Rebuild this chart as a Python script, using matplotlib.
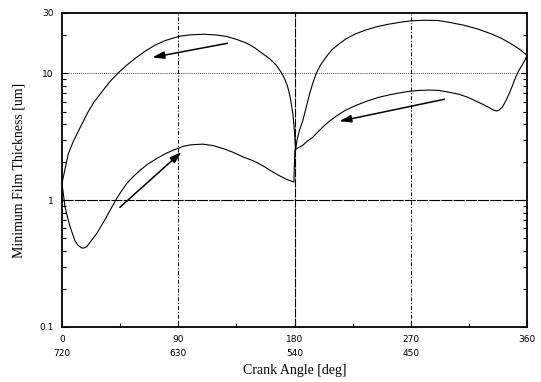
import matplotlib
matplotlib.use("Agg")
import matplotlib.pyplot as plt
from matplotlib.ticker import FixedLocator, NullFormatter

# Upper curve (crank angle deg, film thickness um)
upper_angle = [0, 4.9, 8.7, 12.6, 16, 20.3, 25, 30.6, 37, 43.5, 50, 56.4, 64, 71.8, 80, 91.2,
               100, 110, 120, 127.2, 135, 142.7, 149, 155.5, 161, 165.9, 169.5, 172.3, 174.5,
               176.1, 177.5, 178.7, 179.6, 180.3, 180.8, 182, 184, 186.5, 189, 191.7, 194,
               196.8, 200, 204.5, 209, 214.8, 220, 227.6, 235, 243, 253, 263.4, 270, 280,
               290.6, 300, 311.3, 322, 332, 340, 347.5, 354, 360]
upper_h = [1.36, 2.33, 2.9, 3.5, 4.1, 5.0, 6.0, 7.1, 8.6, 10.1, 11.6, 13.1, 14.9, 16.7, 18.2, 19.7,
           20.2, 20.4, 20.1, 19.6, 18.6, 17.4, 16.0, 14.3, 13.0, 11.6, 10.3, 9.1, 8.0,
           6.9, 5.8, 4.8, 3.9, 3.1, 2.48, 3.0, 3.6, 4.27, 5.4, 6.9, 8.3,
           10.0, 11.6, 13.5, 15.4, 17.2, 18.8, 20.6, 22.0, 23.3, 24.5, 25.5, 26.0, 26.3,
           26.2, 25.3, 24.0, 22.4, 20.6, 19.0, 17.2, 15.6, 13.9]

# Lower curve
lower_angle = [0, 2.3, 4.5, 6.2, 8.5, 10, 12.5, 15.2, 17, 19.1, 22, 26.8, 30.5, 34.5, 38.5, 42.3,
               46, 50, 55, 60.3, 66.5, 73.2, 80, 86, 93.7, 100, 109, 117, 124.6, 132, 140,
               148, 155.5, 162, 168.4, 174, 179.5, 180.3, 183, 186.5, 190, 194.2, 198, 201.9,
               207, 212.2, 219, 227.6, 236, 245.6, 254, 263.7, 270, 276.6, 284, 292, 300,
               307.5, 314, 320.4, 326, 330.7, 334, 336.3, 338.5, 341, 343.5, 346.1, 348.7,
               351.3, 354, 356.4, 358.5, 360]
lower_h = [1.36, 0.89, 0.72, 0.62, 0.53, 0.48, 0.44, 0.42, 0.42, 0.43, 0.47, 0.545, 0.63, 0.74,
           0.88, 1.03, 1.18, 1.35, 1.53, 1.72, 1.93, 2.13, 2.33, 2.48, 2.66, 2.74, 2.77, 2.7,
           2.56, 2.4, 2.2, 2.05, 1.87, 1.70, 1.56, 1.46, 1.39, 2.5, 2.6, 2.72, 2.93, 3.15,
           3.45, 3.78, 4.2, 4.6, 5.1, 5.6, 6.05, 6.5, 6.8, 7.1, 7.25, 7.35, 7.4, 7.35, 7.1,
           6.85, 6.5, 6.06, 5.7, 5.38, 5.15, 5.06, 5.15, 5.44, 6.05, 6.9, 8.0,
           9.4, 10.7, 11.7, 12.8, 13.9]

# Direction arrows: (tail angle, tail h, head angle, head h)
arrows = [(128.0, 17.3, 70.0, 13.4),
          (44.8, 0.88, 92.5, 2.4),
          (296.0, 6.26, 214.8, 4.2)]

xticks = [0, 90, 180, 270, 360]
xticklabels = ["0\n720", "90\n630", "180\n540", "270\n450", "360"]
yticks = [0.1, 1, 10, 30]
yticklabels = ["0.1", "1", "10", "30"]

fig = plt.figure(figsize=(5.41, 3.82), dpi=100)
ax = fig.add_axes([62/541, 1-327/382, (527-62)/541, (327-13)/382])

ax.set_yscale("log")
ax.set_xlim(0, 360)
ax.set_ylim(0.1, 30)

# grid lines
for v in [90, 270]:
    ax.axvline(v, color="black", lw=0.7, ls=(0, (4, 2, 1, 2)), zorder=1)
ax.axvline(180, color="black", lw=0.8, ls=(0, (8, 1)), zorder=1)
ax.axhline(10, color="black", lw=0.6, ls=(0, (1, 1.5)), zorder=1)
ax.axhline(1, color="black", lw=0.8, ls=(0, (10, 1)), zorder=1)

ax.plot(upper_angle, upper_h, color="black", lw=0.8, zorder=3)
ax.plot(lower_angle, lower_h, color="black", lw=0.8, zorder=3)

for ta, th, ha, hh in arrows:
    ax.annotate("", xy=(ha, hh), xytext=(ta, th),
                arrowprops=dict(arrowstyle="-|>,head_length=0.7,head_width=0.22",
                                color="black", lw=1.1,
                                mutation_scale=10, shrinkA=0, shrinkB=0), zorder=4)

ax.xaxis.set_major_locator(FixedLocator(xticks))
ax.set_xticklabels(xticklabels, fontsize=6.5, family="DejaVu Sans", linespacing=1.7)
ax.xaxis.set_minor_locator(FixedLocator([45, 135, 225, 315]))
ax.yaxis.set_major_locator(FixedLocator(yticks))
ax.set_yticklabels(yticklabels, fontsize=6.5, family="DejaVu Sans")
minor_y = [0.2, 0.3, 0.4, 0.5, 0.6, 0.7, 0.8, 0.9, 2, 3, 4, 5, 6, 7, 8, 9, 20]
ax.yaxis.set_minor_locator(FixedLocator(minor_y))
ax.yaxis.set_minor_formatter(NullFormatter())
ax.tick_params(which="both", direction="in", right=True, top=False, width=0.8)
ax.tick_params(which="major", length=4, pad=6)
ax.tick_params(which="minor", length=3)

for s in ax.spines.values():
    s.set_linewidth(1.3)

ax.set_xlabel("Crank Angle [deg]", family="Liberation Serif", fontsize=10, labelpad=4)
ax.set_ylabel("Minimum Film Thickness [um]", family="Liberation Serif", fontsize=10, labelpad=10)

fig.savefig("out.png", dpi=100)
